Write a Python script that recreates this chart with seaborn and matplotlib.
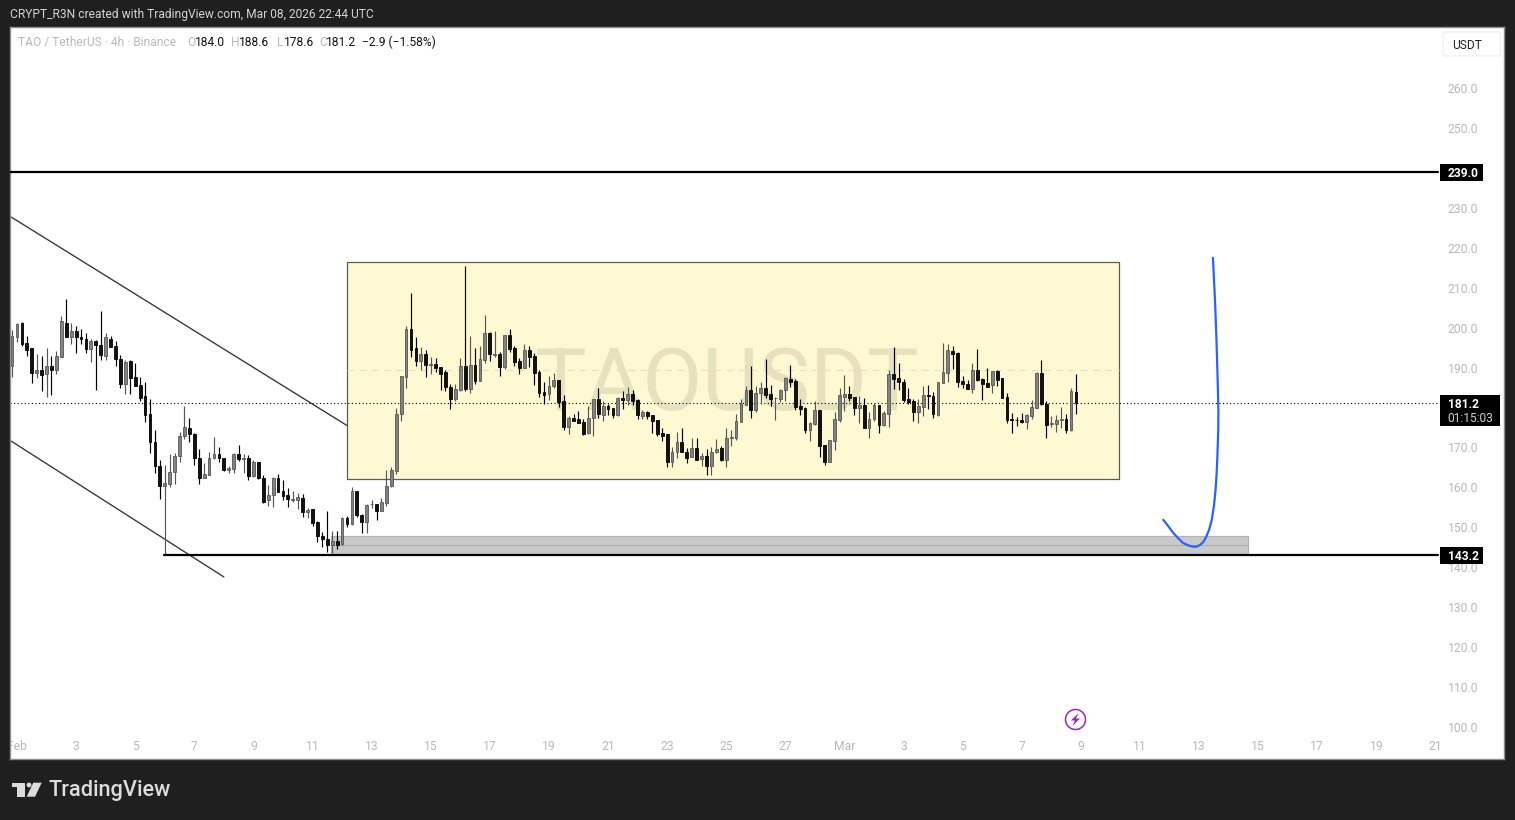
import numpy as np
import pandas as pd
import seaborn as sns
import matplotlib.pyplot as plt
from matplotlib.patches import Rectangle, Polygon, Ellipse, FancyBboxPatch
from matplotlib.transforms import Affine2D

# TAOUSDT 4h candles. first candle is Jan 31 20:00
opens = [190.6,197.9,201.3,196.3,194.9,188.8,189.4,188.6,190.4,189.6,
         192.8,201.4,197.9,199.4,197.9,197.4,194.8,196.9,195.9,193.1,
         197.4,195.4,192.3,186.1,191.8,187.7,185.7,182.9,178.6,171.6,
         165.6,160.5,161.0,164.1,168.0,173.1,174.9,173.6,167.6,162.4,
         163.3,167.5,168.4,167.4,164.5,164.8,168.4,167.3,167.4,163.0,
         166.6,162.4,156.9,158.1,162.4,159.1,158.1,157.0,157.0,157.4,
         154.0,154.6,151.4,148.0,147.1,145.8,146.6,145.9,152.4,150.9,
         159.1,153.2,151.5,155.9,155.9,154.3,156.3,160.5,164.2,178.6,
         187.8,199.9,194.9,191.8,193.4,190.8,190.9,190.2,188.9,185.2,
         182.3,184.6,190.4,184.8,190.7,186.8,192.1,198.9,193.3,193.4,
         190.3,198.3,194.9,191.7,190.1,194.4,192.9,189.0,183.9,183.6,
         185.6,186.9,181.7,175.3,177.6,177.2,176.4,173.8,177.6,182.2,
         178.3,180.4,179.9,178.3,182.4,182.1,183.4,181.9,178.0,178.9,
         178.2,176.9,173.7,173.4,166.5,169.1,171.6,169.1,167.8,170.0,
         167.3,167.9,165.5,169.1,169.9,167.1,172.6,172.6,176.6,180.8,
         184.4,179.6,183.8,185.0,183.5,182.4,182.3,184.6,187.2,186.8,
         180.5,179.9,174.6,176.0,179.5,170.7,166.6,171.8,177.1,182.7,
         183.4,182.7,180.0,180.7,175.1,177.2,180.7,175.8,178.6,188.4,
         187.4,186.4,182.2,181.7,179.1,180.3,183.2,182.9,178.2,186.3,
         188.8,194.2,193.7,186.7,185.9,184.8,189.4,187.3,186.2,185.7,
         189.2,187.4,182.7,177.2,177.0,176.9,176.4,178.1,180.1,188.8,
         180.9,176.1,176.1,177.1,177.2,174.5,184.0]
closes = [198.0,201.0,196.1,194.6,188.8,189.5,188.3,190.4,189.6,192.9,
          201.7,197.9,199.4,197.9,197.3,194.8,196.9,195.8,193.3,197.7,
          195.3,192.3,186.1,191.5,187.6,185.6,182.6,178.3,171.5,165.5,
          160.5,161.1,164.1,168.1,173.1,175.2,173.6,167.6,162.5,163.6,
          167.6,168.4,167.4,164.4,165.1,168.5,167.3,167.4,163.0,166.6,
          162.4,156.5,158.1,162.4,159.0,158.0,157.1,157.2,157.6,154.0,
          154.4,151.3,148.0,147.1,145.8,146.6,145.8,152.4,150.9,159.1,
          153.1,151.5,155.6,156.0,154.2,156.5,160.5,164.4,178.4,187.9,
          199.9,194.6,191.8,193.4,190.8,190.9,190.0,188.6,185.3,182.3,
          184.7,190.4,184.7,190.7,186.8,192.2,198.9,193.4,193.4,190.3,
          198.3,194.8,191.6,190.1,194.4,192.8,188.8,183.8,183.3,185.4,
          186.9,181.6,175.3,177.6,176.8,176.3,173.5,177.6,182.2,178.6,
          180.4,179.7,178.3,182.4,182.1,183.4,181.8,178.3,178.9,178.0,
          176.8,173.4,173.1,166.5,169.1,171.6,169.0,167.6,170.0,167.1,
          168.0,165.5,169.1,169.7,167.0,172.6,172.7,176.7,181.0,184.4,
          179.6,183.8,185.0,183.2,182.3,182.5,184.5,187.4,186.5,180.3,
          179.8,174.6,176.2,179.5,170.6,166.6,171.9,177.2,183.2,183.4,
          182.6,180.1,180.7,175.1,177.2,180.7,175.8,178.7,188.4,187.3,
          186.6,182.0,181.6,179.1,180.4,183.2,183.1,178.6,186.4,188.9,
          194.4,193.6,186.6,185.9,184.8,189.4,187.1,185.9,185.3,189.2,
          187.1,182.6,177.1,177.1,176.9,176.4,178.2,180.2,188.8,180.9,
          175.8,176.2,176.9,177.2,174.6,184.2,181.2]
highs = [199.5,201.4,201.5,198.0,195.0,193.5,193.0,194.9,193.0,194.3,
         203.0,207.3,201.4,200.5,199.7,198.8,197.2,197.0,204.3,198.8,
         198.0,196.8,193.2,192.0,192.0,191.3,187.7,186.4,182.2,174.5,
         166.9,165.7,168.5,168.8,173.9,180.5,177.5,173.7,169.7,166.2,
         169.1,172.7,170.2,167.6,165.4,168.7,170.7,168.5,168.2,166.9,
         166.6,163.1,160.7,162.6,163.4,161.9,159.9,159.3,158.6,158.4,
         154.9,154.7,151.6,149.0,154.2,149.2,149.2,152.6,152.9,160.2,
         159.3,153.4,156.0,157.0,156.0,157.4,164.5,165.2,180.0,187.9,
         200.5,208.8,197.8,195.3,194.4,192.8,192.5,190.3,189.4,186.0,
         185.9,192.5,215.5,198.0,195.0,195.4,203.2,199.0,199.3,194.1,
         198.4,199.8,195.5,192.4,196.0,195.5,193.8,189.4,186.5,188.0,
         188.7,186.9,183.2,177.9,178.6,179.2,177.2,180.4,182.2,184.9,
         181.7,181.0,180.0,182.8,184.2,185.2,184.5,182.2,179.5,179.2,
         178.2,177.0,174.9,173.6,170.2,174.0,175.1,170.1,172.6,172.5,
         168.7,169.7,170.3,172.2,170.5,175.0,174.6,178.4,182.3,185.5,
         190.5,185.5,186.5,192.2,185.8,182.7,184.7,187.7,190.8,187.2,
         182.2,180.2,176.6,181.7,179.5,170.7,172.0,178.9,185.0,188.3,
         185.5,182.8,183.0,182.4,178.9,181.3,180.8,179.2,189.5,195.3,
         191.3,187.2,185.0,182.2,182.3,185.5,185.7,184.1,186.5,196.2,
         196.0,195.5,193.9,188.0,187.0,191.3,194.8,187.4,189.9,189.3,
         189.4,187.4,183.7,178.7,177.7,178.7,178.4,182.0,189.1,192.0,
         181.7,178.0,178.2,180.2,178.4,184.9,188.6]
lows = [187.8,196.6,195.6,193.1,186.3,187.4,184.3,182.8,183.3,188.5,
        192.8,197.9,196.1,193.8,196.1,193.8,191.6,184.6,192.1,192.1,
        195.3,190.6,185.1,183.6,183.4,185.6,181.8,176.6,168.8,163.8,
        157.3,143.2,160.3,161.0,166.5,172.2,171.5,165.8,161.0,162.4,
        163.3,167.2,166.5,164.3,163.8,163.7,166.8,163.8,161.9,162.6,
        162.2,156.3,155.4,155.2,159.0,156.9,155.2,156.4,154.8,152.7,
        152.4,150.5,146.5,145.2,144.0,143.8,144.6,145.8,150.2,150.7,
        152.8,148.8,148.8,154.9,152.0,154.3,155.5,160.3,163.5,176.8,
        185.1,192.8,190.6,189.5,187.8,188.5,189.1,184.6,184.3,179.8,
        181.8,184.3,184.3,183.8,186.1,186.8,191.3,191.8,192.8,188.1,
        189.8,194.1,190.6,188.6,190.1,190.2,185.8,182.8,181.1,182.0,
        185.1,180.3,174.5,173.5,176.8,176.3,173.3,173.6,173.1,177.5,
        176.8,178.2,177.6,177.9,179.7,180.7,180.7,177.2,177.2,177.2,
        173.7,173.1,171.8,165.3,165.2,167.6,168.9,166.3,167.8,167.0,
        165.5,163.3,163.3,168.7,166.8,165.2,170.6,172.0,176.6,180.8,
        177.6,179.1,181.1,182.6,180.5,177.1,181.5,181.8,185.3,179.5,
        178.2,173.8,171.8,175.8,167.8,165.8,166.6,169.5,176.6,179.3,
        181.7,178.2,176.3,175.1,172.5,176.8,173.8,175.5,175.3,184.7,
        184.6,181.5,180.9,176.7,176.3,178.0,179.7,177.6,178.0,186.2,
        186.6,189.8,185.3,184.9,184.7,183.8,186.8,182.1,185.3,183.8,
        185.6,182.6,176.2,173.8,175.5,176.3,174.8,177.2,180.1,180.8,
        172.6,175.3,174.1,175.1,173.7,174.3,178.6]

# drawings, x in days since Feb 1
upper_trend_x = [-0.237, 11.17]
upper_trend_y = [228.0, 175.6]
lower_trend_x = [-0.237, 7.0]
lower_trend_y = [171.9, 137.7]
curve_x = [40.47,40.54,40.59,40.63,40.655,40.65,40.62,40.592,40.558,40.508,40.43,40.34,
           40.24,40.14,40.03,39.92,39.79,39.63,39.46,39.29,39.12,38.95,38.79]
curve_y = [217.6,207.0,197.0,187.0,179.5,174.5,167.7,163.2,159.5,155.7,152.0,149.5,
           147.7,146.4,145.7,145.3,145.3,145.6,146.2,147.4,148.8,150.5,152.0]

last_price = 181.2
level_high = 239.0
level_low = 143.2
range_top, range_bottom = 216.6, 162.1
range_mid = 189.4
range_start, range_end = 11.18, 37.29
zone_top, zone_bottom = 147.9, 143.4
zone_mid = 145.6
zone_start, zone_end = 10.63, 41.64
low_line_start = 4.99

price_ticks = [100,110,120,130,140,150,160,170,190,200,210,220,230,250,260]
day_ticks = [0,2,4,6,8,10,12,14,16,18,20,22,24,26,28,30,32,34,36,38,40,42,44,46,48]
day_labels = ["Feb","3","5","7","9","11","13","15","17","19","21","23","25","27",
              "Mar","3","5","7","9","11","13","15","17","19","21"]

W, H = 1515, 820
BG = "#1f1f1f"
LEFT_DAY, RIGHT_DAY = -0.237, 50.32

sns.set_theme(style="white")
plt.rcParams["font.family"] = ["Roboto", "DejaVu Sans"]


def fx(x):
    return x / W


def fy(y):
    return 1 - y / H


def px_box(x0, y0, x1, y1, **kw):
    fig.add_artist(Rectangle((fx(x0), fy(y1)), (x1 - x0) / W, (y1 - y0) / H,
                             transform=fig.transFigure, **kw))


def px_text(x, y, s, **kw):
    kw.setdefault("va", "center")
    kw.setdefault("fontsize", 8.65)
    kw.setdefault("zorder", 5)
    fig.text(fx(x), fy(y), s, **kw)


fig = plt.figure(figsize=((W + 0.01) / 100, (H + 0.01) / 100), dpi=100, facecolor=BG)
ax = fig.add_axes([fx(10), fy(759.5), 1494 / W, 732.5 / H], facecolor="white")
ax.set_xlim(LEFT_DAY, RIGHT_DAY)
ax.set_ylim(91.99, 275.4)

candles = pd.DataFrame({"open": opens, "high": highs, "low": lows, "close": closes})
candles["day"] = (np.arange(len(candles)) - 1) / 6
up = candles[candles["close"] >= candles["open"]]
down = candles[candles["close"] < candles["open"]]

# range box, watermark and support zone go under the candles
ax.add_patch(Rectangle((range_start, range_bottom), range_end - range_start, range_top - range_bottom,
                       facecolor="#fff9d3", edgecolor="#5e5c50", lw=0.9, zorder=1))
ax.hlines(range_mid, range_start, range_end, colors="#e3dfc0", lw=0.8, linestyles=(0, (6, 5)), zorder=1.1)
ax.text((range_start + range_end) / 2 - 0.2, 185.6, "TAOUSDT", fontsize=62.6, color="#e6e1bf",
        ha="center", va="center", zorder=1.2)
ax.add_patch(Rectangle((zone_start, zone_bottom), zone_end - zone_start, zone_top - zone_bottom,
                       facecolor="#c9c9c9", edgecolor="#b4b4b4", lw=0.9, zorder=1))
ax.hlines(zone_mid, zone_start, zone_end, colors="#adadad", lw=0.8, zorder=1.1)

ax.hlines(last_price, LEFT_DAY, 48.1, colors="black", lw=0.8, linestyles=(0, (1, 2.2)), zorder=1.5)

for part, body, edge in [(up, "#828282", "#565656"), (down, "#111111", "#000000")]:
    ax.vlines(part["day"], part["low"], part["high"], colors=edge, lw=0.85, zorder=3)
    ax.bar(part["day"], part["close"] - part["open"], bottom=part["open"], width=0.095,
           color=body, edgecolor=edge, lw=0.6, zorder=3.1)

sns.lineplot(x=upper_trend_x, y=upper_trend_y, ax=ax, color="#333333", lw=0.95, zorder=2)
sns.lineplot(x=lower_trend_x, y=lower_trend_y, ax=ax, color="#333333", lw=0.95, zorder=2)
sns.lineplot(x=[LEFT_DAY, 48.1], y=[level_high, level_high], ax=ax, color="black", lw=1.6, zorder=4)
sns.lineplot(x=[low_line_start, 48.1], y=[level_low, level_low], ax=ax, color="black", lw=1.6, zorder=4)
sns.lineplot(x=curve_x, y=curve_y, ax=ax, color="#2962ff", lw=1.6, sort=False, zorder=4, estimator=None)

# axis labels sit inside the plot like on TradingView
ax.yaxis.tick_right()
ax.set_yticks(price_ticks)
ax.set_yticklabels([f"{v:.1f}" for v in price_ticks])
ax.set_xticks(day_ticks)
ax.set_xticklabels(day_labels)
ax.tick_params(axis="y", length=0, pad=-40.6, labelsize=8.7, labelcolor="#b8b8b8")
ax.tick_params(axis="x", length=0, pad=-14.0, labelsize=8.7, labelcolor="#b8b8b8")
for lbl in ax.get_yticklabels():
    lbl.set_va("center")
    lbl.set_transform(lbl.get_transform() + Affine2D().translate(0, -1))
for lbl in ax.get_xticklabels():
    lbl.set_clip_box(ax.bbox)
    lbl.set_clip_on(True)
ax.grid(False)
for sp in ax.spines.values():
    sp.set_color("#8e8e8e")
    sp.set_linewidth(1)

# header
px_text(10, 14.5, "CRYPT_R3N created with TradingView.com, Mar 08, 2026 22:44 UTC", color="#d4d4d4")
px_text(18, 42, "TAO / TetherUS · 4h · Binance", color="#b8b8b8")
for x, s, c in [(187, "O", "#b8b8b8"), (195, "184.0", "#111111"), (231, "H", "#b8b8b8"), (239, "188.6", "#111111"),
                (277, "L", "#b8b8b8"), (284, "178.6", "#111111"), (319, "C", "#b8b8b8"), (326, "181.2", "#111111"),
                (362, "−2.9 (−1.58%)", "#111111")]:
    px_text(x, 42, s, color=c)

# currency box
fig.add_artist(FancyBboxPatch((fx(1445), fy(55)), 54 / W, 22 / H, boxstyle="round,pad=0.0012",
                              transform=fig.transFigure, facecolor="white", edgecolor="#efefef", lw=0.9))
px_text(1452, 45, "USDT", color="#222222")

# price labels
px_box(1440, 164, 1483, 181, facecolor="black", edgecolor="none", zorder=3)
px_text(1447.5, 173, "239.0", color="white", fontweight="bold")
px_box(1440, 547, 1483, 564, facecolor="black", edgecolor="none", zorder=3)
px_text(1447.5, 556, "143.2", color="white", fontweight="bold")
px_box(1440, 395, 1500, 426, facecolor="black", edgecolor="none", zorder=3)
px_text(1447.5, 404, "181.2", color="white", fontweight="bold")
px_text(1447.5, 418, "01:15:03", color="#d0d0d0")

# lightning badge
fig.add_artist(Ellipse((fx(1075.5), fy(719.5)), 20 / W, 20 / H, transform=fig.transFigure, facecolor="none",
                       edgecolor="#9c27b0", lw=1.1))
bolt = [(1078.5, 713), (1071, 720.5), (1075, 720.5), (1072.5, 726), (1080, 718.5), (1076, 718.5)]
fig.add_artist(Polygon([(fx(x), fy(y)) for x, y in bolt], transform=fig.transFigure,
                       facecolor="#9c27b0", edgecolor="none"))

# logo
LOGO = "#dcdcdc"
logo_t = [(12, 782.7), (25, 782.7), (25, 796.7), (16.7, 796.7), (16.7, 787.3), (12, 787.3)]
logo_s = [(33.3, 782.7), (41.7, 782.7), (35, 796.7), (26.7, 796.7)]
for shape in (logo_t, logo_s):
    fig.add_artist(Polygon([(fx(x), fy(y)) for x, y in shape], transform=fig.transFigure,
                           facecolor=LOGO, edgecolor="none"))
fig.add_artist(Ellipse((fx(29), fy(785)), 4.8 / W, 4.8 / H, transform=fig.transFigure, facecolor=LOGO, edgecolor="none"))
px_text(48, 790.5, "TradingView", color=LOGO, fontsize=15.7, fontweight="medium")

fig.savefig("out.png", dpi=100, facecolor=BG)
